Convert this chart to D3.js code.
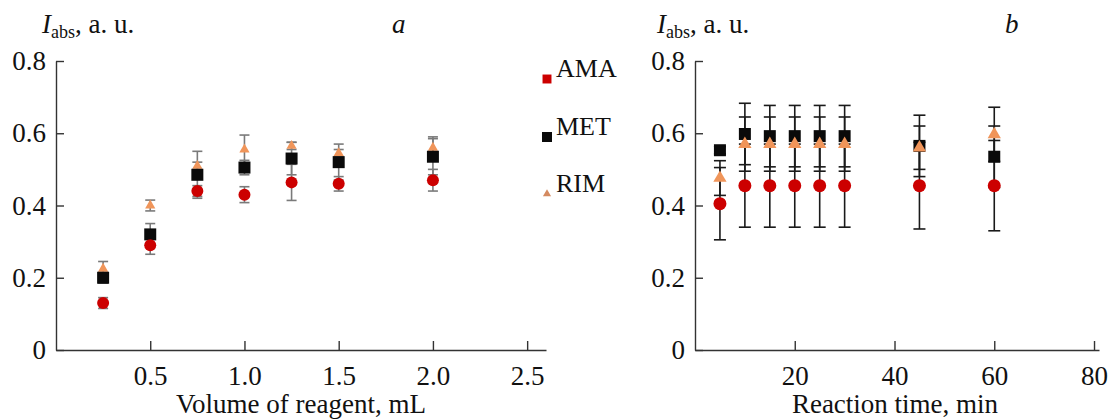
<!DOCTYPE html>
<html>
<head>
<meta charset="utf-8">
<script src="https://cdn.jsdelivr.net/npm/d3@7"></script>
<style>
  body { margin: 0; background: #fff; }
  svg text { font-family: "Times New Roman", "Liberation Serif", Tinos, "Nimbus Roman", "DejaVu Serif", serif; fill: #111; }
  .axis path, .axis line { stroke: #333; stroke-width: 1.4; }
  .axis text { font-size: 27px; }
</style>
</head>
<body>
<svg id="chart" width="1109" height="419"></svg>
<script>
// panel a: absorbance vs volume of reagent
const volumeA = [0.25, 0.5, 0.75, 1.0, 1.25, 1.5, 2.0];
const amaA    = [0.13, 0.29, 0.44, 0.43, 0.464, 0.46, 0.47];
const amaAErr = [0.015, 0.025, 0.015, 0.022, 0.05, 0.02, 0.03];
const metA    = [0.20, 0.32, 0.485, 0.505, 0.53, 0.52, 0.535];
const metAErr = [0.015, 0.03, 0.065, 0.02, 0.045, 0.05, 0.05];
const rimA    = [0.225, 0.40, 0.51, 0.555, 0.565, 0.545, 0.56];
const rimAErr = [0.02, 0.015, 0.01, 0.04, 0.01, 0.01, 0.03];

// panel b: absorbance vs reaction time
const timeB   = [5, 10, 15, 20, 25, 30, 45, 60];
const amaB    = [0.405, 0.455, 0.455, 0.455, 0.455, 0.455, 0.455, 0.455];
const amaBErr = [0.10, 0.115, 0.115, 0.115, 0.115, 0.115, 0.12, 0.125];
const metB    = [0.553, 0.598, 0.592, 0.592, 0.592, 0.592, 0.565, 0.535];
const metBErr = [0.01, 0.085, 0.085, 0.085, 0.085, 0.085, 0.085, 0.085];
const rimB    = [0.476, 0.57, 0.57, 0.57, 0.57, 0.57, 0.56, 0.597];
const rimBErr = [0.048, 0.075, 0.075, 0.075, 0.075, 0.075, 0.06, 0.075];

const yTicks  = [0, 0.2, 0.4, 0.6, 0.8];
const xTicksA = [0.5, 1.0, 1.5, 2.0, 2.5];
const xTicksB = [20, 40, 60, 80];
const seriesNames = ['AMA', 'MET', 'RIM'];

const colors = { AMA: '#cc0000', MET: '#0a0a0a', RIM: '#f0955a' };
const serif = '"Times New Roman", "Liberation Serif", Tinos, "Nimbus Roman", "DejaVu Serif", serif';

const svg = d3.select('#chart');

function marker(name, size) {
    if (name === 'AMA') return d3.symbol(d3.symbolCircle, Math.PI * size * size / 4)();
    if (name === 'MET') return d3.symbol(d3.symbolSquare, size * size)();
    return d3.symbol(d3.symbolTriangle, size * size * 0.45)();
}

function drawPanel(opt) {
    const x = d3.scaleLinear().domain(opt.xDomain).range(opt.xRange);
    const y = d3.scaleLinear().domain([0, 0.8]).range([350, 61]);
    const g = svg.append('g');

    // axes
    g.append('g')
        .attr('class', 'axis')
        .attr('transform', 'translate(0,350)')
        .call(d3.axisBottom(x).tickValues(opt.xTicks).tickFormat(opt.xFormat)
            .tickSizeInner(-9).tickSizeOuter(0).tickPadding(16))
        .attr('font-family', serif);
    g.append('g')
        .attr('class', 'axis')
        .attr('transform', `translate(${opt.xRange[0]},0)`)
        .call(d3.axisLeft(y).tickValues(yTicks).tickFormat(d => d === 0 ? '0' : d3.format('.1f')(d))
            .tickSizeInner(-8).tickSizeOuter(0).tickPadding(10))
        .attr('font-family', serif);

    // axis titles
    g.append('text')
        .attr('x', opt.titleX).attr('y', 413)
        .attr('text-anchor', 'middle')
        .style('font-size', '27px')
        .text(opt.title);

    const yl = g.append('text')
        .attr('x', opt.labelX).attr('y', 33)
        .style('font-size', '27px');
    yl.append('tspan').style('font-style', 'italic').text('I');
    yl.append('tspan').attr('dy', 5).style('font-size', '18px').text('abs');
    yl.append('tspan').attr('dy', -5).text(', a. u.');

    g.append('text')
        .attr('x', opt.letterX).attr('y', 33)
        .style('font-size', '27px').style('font-style', 'italic')
        .text(opt.letter);

    // error bars, then markers
    const cap = opt.cap;
    opt.order.forEach(name => {
        const vals = opt.data[name], errs = opt.err[name];
        const eb = g.append('g').attr('stroke', opt.errColor).attr('stroke-width', 1.6);
        opt.xs.forEach((xv, i) => {
            const cx = x(xv);
            const y1 = y(vals[i] - errs[i]), y2 = y(vals[i] + errs[i]);
            eb.append('line').attr('x1', cx).attr('x2', cx).attr('y1', y1).attr('y2', y2);
            eb.append('line').attr('x1', cx - cap).attr('x2', cx + cap).attr('y1', y1).attr('y2', y1);
            eb.append('line').attr('x1', cx - cap).attr('x2', cx + cap).attr('y1', y2).attr('y2', y2);
        });
    });
    opt.order.forEach(name => {
        const vals = opt.data[name];
        g.append('g').selectAll('path')
            .data(opt.xs.map((xv, i) => [xv, vals[i]]))
            .join('path')
            .attr('transform', d => `translate(${x(d[0])},${y(d[1])})`)
            .attr('d', marker(name, opt.sizes[name]))
            .attr('fill', colors[name]);
    });
}

drawPanel({
    xDomain: [0, 2.6], xRange: [56, 546],
    xTicks: xTicksA, xFormat: d3.format('.1f'),
    title: 'Volume of reagent, mL', titleX: 301,
    labelX: 42, letter: 'a', letterX: 392,
    xs: volumeA,
    data: { AMA: amaA, MET: metA, RIM: rimA },
    err: { AMA: amaAErr, MET: metAErr, RIM: rimAErr },
    order: ['RIM', 'MET', 'AMA'],
    sizes: { AMA: 12, MET: 12, RIM: 10 },
    errColor: '#7a7a7a', cap: 5
});

drawPanel({
    xDomain: [0, 81], xRange: [695, 1099],
    xTicks: xTicksB, xFormat: d3.format('d'),
    title: 'Reaction time, min', titleX: 895,
    labelX: 657, letter: 'b', letterX: 1005,
    xs: timeB,
    data: { AMA: amaB, MET: metB, RIM: rimB },
    err: { AMA: amaBErr, MET: metBErr, RIM: rimBErr },
    order: ['MET', 'RIM', 'AMA'],
    sizes: { AMA: 13, MET: 12, RIM: 13 },
    errColor: '#1a1a1a', cap: 6
});

// legend next to panel a
const legendY = [79, 137, 194];
const legendSize = { AMA: 9, MET: 10, RIM: 8 };
const legend = svg.append('g');
seriesNames.forEach((name, i) => {
    legend.append('path')
        .attr('transform', `translate(547,${legendY[i]})`)
        .attr('d', name === 'AMA' ? d3.symbol(d3.symbolSquare, 80)() : marker(name, legendSize[name]))
        .attr('fill', name === 'RIM' ? '#d48a60' : colors[name]);
    legend.append('text')
        .attr('x', 556).attr('y', legendY[i] - 2)
        .style('font-size', '26px')
        .text(name);
});
</script>
</body>
</html>
